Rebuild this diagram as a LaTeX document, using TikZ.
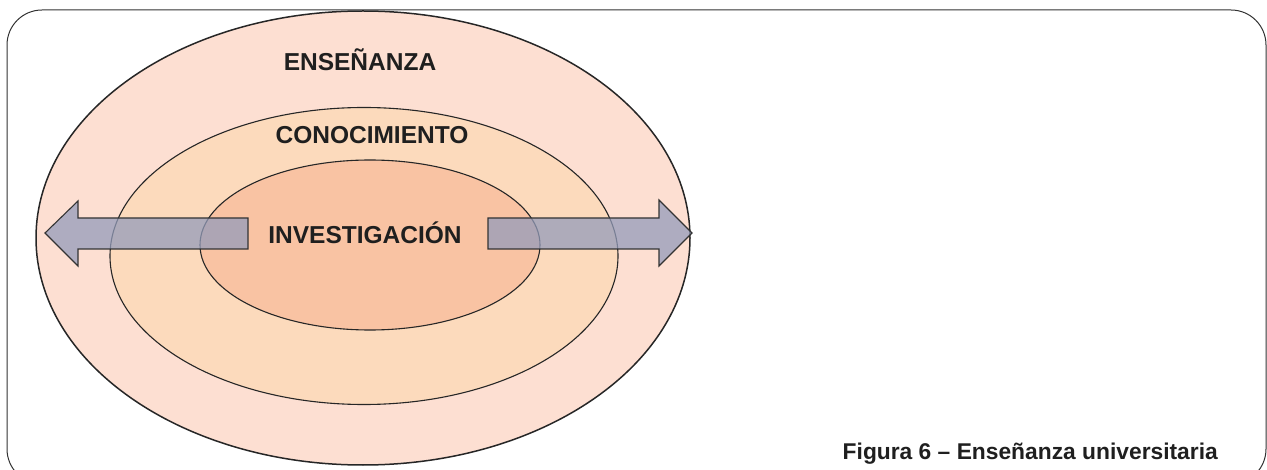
\documentclass[tikz,border=0pt]{standalone}
\usepackage{fontspec}
\setmainfont{Liberation Sans}
\usetikzlibrary{shapes.geometric}
\definecolor{ensColor}{RGB}{253,223,210}
\definecolor{conColor}{RGB}{252,218,188}
\definecolor{invColor}{RGB}{249,195,163}
\definecolor{flechaColor}{RGB}{148,156,186}
\tikzset{
  zona/.style = {shape=ellipse, draw=black!85, line width=1.1pt, inner sep=0pt},
  rotulo/.style = {font=\fontsize{24.5}{28}\selectfont\bfseries, text=black!88},
  flecha/.style = {draw=black!80, line width=1.1pt, fill=flechaColor, fill opacity=0.75, line join=miter}
}
\begin{document}
\begin{tikzpicture}[x=1pt,y=-1pt]
  \useasboundingbox (0,0) rectangle (1267,470);
  % marco
  \draw[black!80, line width=1pt, rounded corners=35pt] (7,10) rectangle (1266,484);
  % zonas
  \node (ens) [zona, line width=1.5pt, fill=ensColor, minimum width=654pt, minimum height=454pt] at (363,238) {};
  \node (con) [zona, fill=conColor, minimum width=508pt, minimum height=297pt] at (364,256) {};
  \node (inv) [zona, fill=invColor, minimum width=340pt, minimum height=170pt] at (370,245) {};
  % flechas
  \draw[flecha] (248,218) -- (78,218) -- (78,201) -- (45,233) -- (78,266) -- (78,249) -- (248,249) -- cycle;
  \draw[flecha] (488,218) -- (659,218) -- (659,200) -- (692,233) -- (659,266) -- (659,249) -- (488,249) -- cycle;
  % textos
  \node (tens) [rotulo] at (360,60) {ENSEÑANZA};
  \node (tcon) [rotulo] at (372,135) {CONOCIMIENTO};
  \node (tinv) [rotulo] at (365,233) {INVESTIGACIÓN};
  \node (pie) [anchor=base east, inner sep=0pt, font=\fontsize{22.8}{26}\selectfont\bfseries, text=black!88] at (1218,459) {Figura 6 – Enseñanza universitaria};
\end{tikzpicture}
\end{document}
